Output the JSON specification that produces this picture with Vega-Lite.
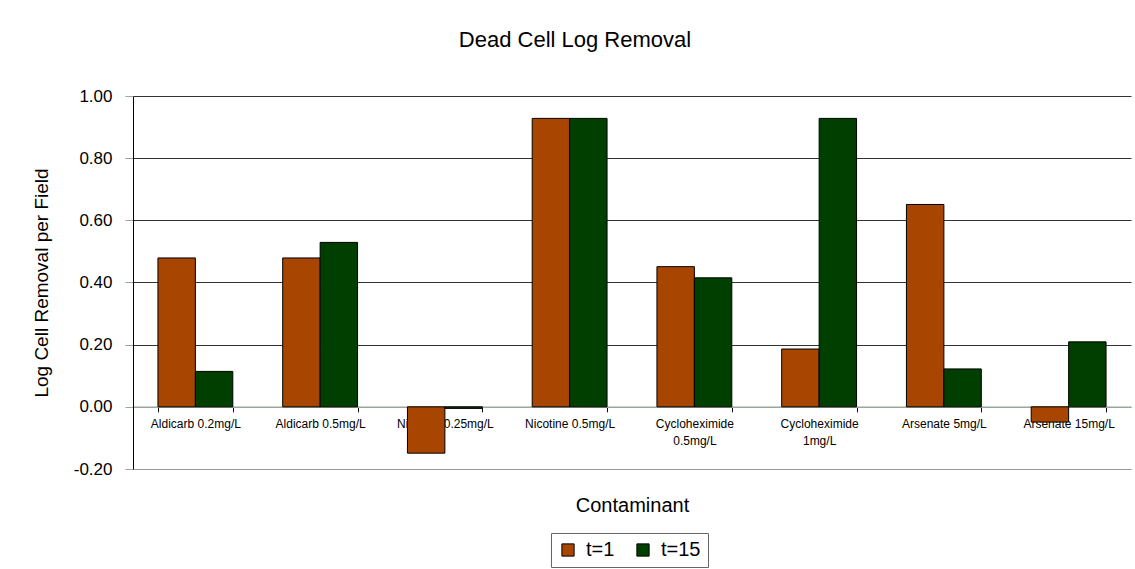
{
  "$schema": "https://vega.github.io/schema/vega-lite/v6.json",
  "width": 998,
  "height": 373,
  "autosize": {"type": "none"},
  "padding": {"left": 133, "top": 96, "right": 4, "bottom": 100},
  "background": "white",
  "config": {
    "font": "Liberation Sans",
    "view": {"stroke": null}
  },
  "title": {
    "text": "Dead Cell Log Removal",
    "fontSize": 22,
    "fontWeight": "normal",
    "font": "Liberation Sans",
    "color": "black",
    "anchor": "middle",
    "frame": "group",
    "baseline": "alphabetic",
    "offset": 18,
    "dx": -57
  },
  "data": {
    "values": [
      {"contaminant": "Aldicarb 0.2mg/L", "time": "t=1", "value": 0.479},
      {"contaminant": "Aldicarb 0.2mg/L", "time": "t=15", "value": 0.114},
      {"contaminant": "Aldicarb 0.5mg/L", "time": "t=1", "value": 0.479},
      {"contaminant": "Aldicarb 0.5mg/L", "time": "t=15", "value": 0.529},
      {"contaminant": "Nicotine 0.25mg/L", "time": "t=1", "value": -0.149},
      {"contaminant": "Nicotine 0.25mg/L", "time": "t=15", "value": -0.005},
      {"contaminant": "Nicotine 0.5mg/L", "time": "t=1", "value": 0.928},
      {"contaminant": "Nicotine 0.5mg/L", "time": "t=15", "value": 0.928},
      {"contaminant": "Cycloheximide 0.5mg/L", "time": "t=1", "value": 0.451},
      {"contaminant": "Cycloheximide 0.5mg/L", "time": "t=15", "value": 0.415},
      {"contaminant": "Cycloheximide 1mg/L", "time": "t=1", "value": 0.186},
      {"contaminant": "Cycloheximide 1mg/L", "time": "t=15", "value": 0.928},
      {"contaminant": "Arsenate 5mg/L", "time": "t=1", "value": 0.651},
      {"contaminant": "Arsenate 5mg/L", "time": "t=15", "value": 0.122},
      {"contaminant": "Arsenate 15mg/L", "time": "t=1", "value": -0.049},
      {"contaminant": "Arsenate 15mg/L", "time": "t=15", "value": 0.209}
    ]
  },
  "mark": {"type": "bar", "stroke": "black", "strokeWidth": 1},
  "encoding": {
    "x": {
      "field": "contaminant",
      "type": "nominal",
      "sort": null,
      "scale": {"paddingInner": 0.4, "paddingOuter": 0.2},
      "axis": {
        "title": "Contaminant",
        "titleFontSize": 20,
        "titleFontWeight": "normal",
        "titleColor": "black",
        "titlePadding": 49,
        "labelAngle": 0,
        "labelFontSize": 12,
        "labelColor": "black",
        "labelPadding": 7,
        "labelLineHeight": 17,
        "labelBaseline": "top",
        "labelExpr": "datum.label == 'Cycloheximide 0.5mg/L' ? ['Cycloheximide', '0.5mg/L'] : datum.label == 'Cycloheximide 1mg/L' ? ['Cycloheximide', '1mg/L'] : datum.label",
        "offset": -62.2,
        "domainColor": "#9aa89a",
        "domainWidth": 1.5,
        "tickColor": "black",
        "tickSize": 5,
        "tickBand": "extent",
        "grid": false
      }
    },
    "xOffset": {"field": "time", "type": "nominal"},
    "y": {
      "field": "value",
      "type": "quantitative",
      "scale": {"domain": [-0.2, 1], "nice": false, "zero": false},
      "axis": {
        "title": "Log Cell Removal per Field",
        "titleFontSize": 19,
        "titleFontWeight": "normal",
        "titleColor": "black",
        "titlePadding": 22,
        "values": [-0.2, 0, 0.2, 0.4, 0.6, 0.8, 1],
        "labelExpr": "replace(format(datum.value, '.2f'), '\u2212', '-')",
        "labelFontSize": 17,
        "labelColor": "black",
        "labelPadding": 13,
        "tickSize": 8,
        "tickColor": "#9aa89a",
        "domainColor": "black",
        "grid": true,
        "gridColor": {"condition": {"test": "datum.value === 0 || datum.value === -0.2", "value": "#9a9a9a"}, "value": "#333333"},
        "gridWidth": 1.2
      }
    },
    "color": {
      "field": "time",
      "type": "nominal",
      "scale": {"domain": ["t=1", "t=15"], "range": ["#A84500", "#003F00"]},
      "legend": {
        "title": null,
        "orient": "none",
        "legendX": 418,
        "legendY": 437,
        "direction": "horizontal",
        "symbolType": "square",
        "symbolSize": 150,
        "symbolStrokeColor": "black",
        "symbolStrokeWidth": 1,
        "labelFontSize": 20,
        "labelColor": "black",
        "labelOffset": 8,
        "columnPadding": 18,
        "padding": 7,
        "strokeColor": "#666666",
        "fillColor": "white"
      }
    }
  }
}
